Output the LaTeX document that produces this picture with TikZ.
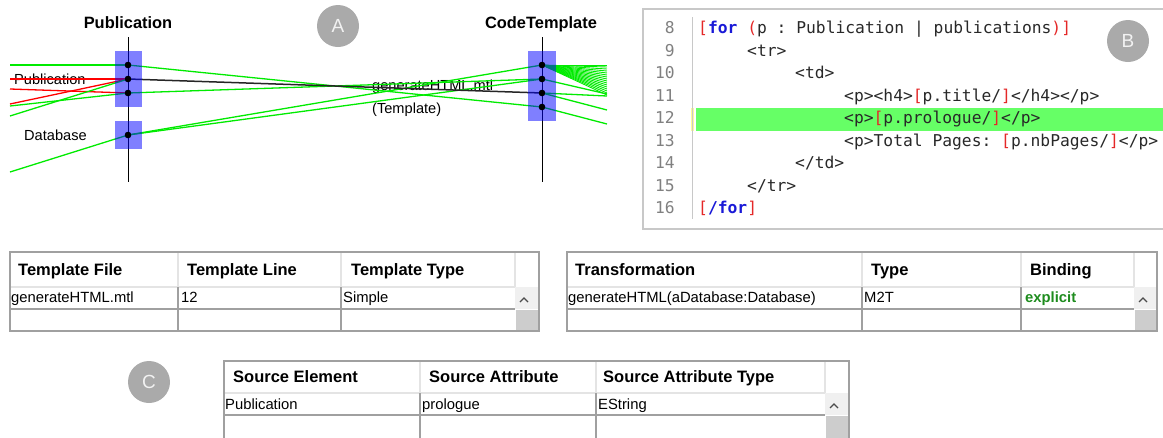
\documentclass[tikz,border=0pt]{standalone}
\usepackage{fontspec}
\setmainfont{Liberation Sans}
\newfontfamily\codefont{DejaVu Sans Mono}

\definecolor{trgreen}{RGB}{0,235,0}
\definecolor{trred}{RGB}{255,0,0}
\definecolor{badge}{RGB}{170,170,170}
\definecolor{hlgreen}{RGB}{102,255,102}
\definecolor{kwblue}{RGB}{25,25,215}
\definecolor{brred}{RGB}{228,40,40}
\definecolor{codetxt}{RGB}{40,40,40}
\definecolor{lnum}{RGB}{128,128,128}
\definecolor{gridgray}{RGB}{160,160,160}
\definecolor{hdrsep}{RGB}{228,228,228}
\definecolor{thumb}{RGB}{205,205,205}
\definecolor{sbback}{RGB}{240,240,240}
\definecolor{okgreen}{RGB}{30,140,30}
\definecolor{boxgray}{RGB}{200,200,200}

\tikzset{
  trace/.style={trgreen, line width=1.3pt},
  failtrace/.style={trred, line width=1.3pt},
  linktrace/.style={black!85, line width=1.5pt},
  lifeline/.style={black, line width=1pt},
  actbox/.style={fill=blue, fill opacity=0.5, draw=none},
  tdot/.style={circle, fill=black, inner sep=0pt, minimum size=6.5pt},
  badgenode/.style={circle, fill=badge, text=white!95!black, minimum size=42pt, inner sep=0pt,
    font=\fontsize{19}{19}\selectfont},
  lifetitle/.style={font=\bfseries\fontsize{16.4}{16.4}\selectfont, inner sep=0pt, anchor=base},
  lbl/.style={font=\fontsize{14.6}{14.6}\selectfont, inner sep=0pt, anchor=base west},
  codeline/.style={font=\codefont\fontsize{16.3}{16.3}\selectfont\frenchspacing, text=codetxt, inner sep=0pt, anchor=base west},
  lnumst/.style={font=\codefont\fontsize{16.3}{16.3}\selectfont, text=lnum, inner sep=0pt, anchor=base east},
  hdr/.style={font=\bfseries\fontsize{16.5}{16.5}\selectfont, inner sep=0pt, anchor=base west},
  celltxt/.style={font=\fontsize{14.8}{14.8}\selectfont, inner sep=0pt, anchor=base west},
  gridline/.style={gridgray, line width=1.2pt},
  hdrline/.style={hdrsep, line width=1.5pt},
}

% x0, column 1, column 2, scrollbar left, x1, top, header bottom, row bottom, bottom
\newcommand\gridtable[9]{%
  \fill[sbback] (#4,#7) rectangle (#5,#8);
  \fill[thumb] (#4+1,#8+1) rectangle (#5-1,#9);
  \draw[hdrline] (#2,#6) -- (#2,#7);
  \draw[hdrline] (#3,#6) -- (#3,#7);
  \draw[hdrline] (#4,#6) -- (#4,#7);
  \draw[hdrline] (#1,#7) -- (#4,#7);
  \draw[gridline] (#2,#7) -- (#2,#9);
  \draw[gridline] (#3,#7) -- (#3,#9);
  \draw[gridline] (#1,#8) -- (#4,#8);
  \draw[gridline] (#1,#6) rectangle (#5,#9);
  \draw[black!70, line width=1.2pt] (#4+5,#7+15) -- (#4+9,#7+11) -- (#4+13,#7+15);
}

\newcommand\redbr[1]{{\color{brred}#1}}

\begin{document}
\begin{tikzpicture}[x=1pt, y=-1pt]
\useasboundingbox (0,0) rectangle (1163,437);

% ---------------- trace view ----------------
\node[badgenode] (badgeA) at (338,26) {A};

\node[lifetitle] (pubtitle) at (128,28) {Publication};
\node[lifetitle] (cttitle) at (541,28) {CodeTemplate};

\coordinate (pubtop) at (128,37);
\coordinate (pubbot) at (128,182);
\coordinate (cttop) at (542,37);
\coordinate (ctbot) at (542,182);
\draw[lifeline] (pubtop) -- (pubbot);
\draw[lifeline] (cttop) -- (ctbot);

\node[lbl] (lblpub) at (14,84) {Publication};
\node[lbl] (lbldb) at (24,140) {Database};
\node[lbl] (lblfile) at (372,90) {generateHTML.mtl};
\node[lbl] (lblkind) at (372,113) {(Template)};

% anchor points on the lifelines
\node[tdot] (p1) at (128,65) {};
\node[tdot] (p2) at (128,79) {};
\node[tdot] (p3) at (128,93) {};
\node[tdot] (d1) at (128,135) {};
\node[tdot] (c1) at (542,65) {};
\node[tdot] (c2) at (542,79) {};
\node[tdot] (c3) at (542,93) {};
\node[tdot] (c4) at (542,107) {};

% incoming ends on the left
\coordinate (l1) at (10,65);
\coordinate (l2) at (10,79);
\coordinate (l3) at (10,89);
\coordinate (l4) at (10,104);
\coordinate (l5) at (10,106);
\coordinate (l6) at (10,116);
\coordinate (l7) at (10,172);
% outgoing ends on the right
\coordinate (r2) at (607,94);
\coordinate (r3a) at (607,96);
\coordinate (r3b) at (607,110);
\coordinate (r4) at (607,124);

\draw[trace] (l1) -- (p1.center);
\draw[failtrace] (l2) -- (p2.center);
\draw[failtrace] (l3) -- (p3.center);
\draw[failtrace] (l4) -- (p2.center);
\draw[trace] (l5) -- (p3.center);
\draw[trace] (l6) -- (p2.center);
\draw[trace] (l7) -- (d1.center);

\draw[trace] (p1.center) -- (c4.center);
\draw[trace] (p3.center) -- (c2.center);
\draw[trace] (d1.center) -- (c1.center);
\draw[trace] (d1.center) -- (c2.center);
\draw[linktrace] (p2.center) -- (c3.center);

\foreach \k in {0,...,15}
  \draw[trace, line width=0.9pt] (c1.center) -- (607,{65+2*\k});
\draw[trace] (c2.center) -- (r2);
\draw[trace] (c3.center) -- (r3a);
\draw[trace] (c3.center) -- (r3b);
\draw[trace] (c4.center) -- (r4);

\fill[actbox] (115,51) rectangle (142,107);
\fill[actbox] (115,121) rectangle (142,149);
\fill[actbox] (528,51) rectangle (556,121);

\foreach \n in {p1,p2,p3,d1,c1,c2,c3,c4}
  \fill (\n.center) circle (3.2pt);

% ---------------- template editor ----------------
\fill[hlgreen] (696,108) rectangle (1163,131);
\fill[yellow!40] (691,108) rectangle (694,131);
\draw[boxgray, line width=0.8pt] (692,17) -- (692,219);
\draw[boxgray, line width=1.6pt] (1165,9) -- (643,9) -- (643,229) -- (1165,229);

\node[lnumst] (n8)  at (675,33.5)  {8};
\node[lnumst] (n9)  at (675,56)    {9};
\node[lnumst] (n10) at (675,78.5)  {10};
\node[lnumst] (n11) at (675,101)   {11};
\node[lnumst] (n12) at (675,123.5) {12};
\node[lnumst] (n13) at (675,146)   {13};
\node[lnumst] (n14) at (675,168.5) {14};
\node[lnumst] (n15) at (675,191)   {15};
\node[lnumst] (n16) at (675,213.5) {16};

\node[codeline] (s8)  at (698,33.5)  {\redbr{[}{\color{kwblue}\bfseries for} \redbr{(}p : Publication | publications\redbr{)]}};
\node[codeline] (s9)  at (747,56)    {<tr>};
\node[codeline] (s10) at (795,78.5)  {<td>};
\node[codeline] (s11) at (844,101)   {<p><h4>\redbr{[}p.title/\redbr{]}</h4></p>};
\node[codeline] (s12) at (844,123.5) {<p>\redbr{[}p.prologue/\redbr{]}</p>};
\node[codeline] (s13) at (844,146)   {<p>Total Pages: \redbr{[}p.nbPages/\redbr{]}</p>};
\node[codeline] (s14) at (795,168.5) {</td>};
\node[codeline] (s15) at (747,191)   {</tr>};
\node[codeline] (s16) at (698,213.5) {\redbr{[}{\color{kwblue}\bfseries /for}\redbr{]}};

\node[badgenode] (badgeB) at (1128,41) {B};

% ---------------- template table ----------------
\gridtable{10}{178}{341}{515}{539}{252}{287}{309}{331}
\node[hdr] (h11) at (18,275.5)  {Template File};
\node[hdr] (h12) at (187,275.5) {Template Line};
\node[hdr] (h13) at (351,275.5) {Template Type};
\node[celltxt] (v11) at (11,302)  {generateHTML.mtl};
\node[celltxt] (v12) at (181,302) {12};
\node[celltxt] (v13) at (343,302) {Simple};

% ---------------- transformation table ----------------
\gridtable{567}{862}{1021}{1134}{1157}{252}{287}{309}{331}
\node[hdr] (h21) at (575,275.5)  {Transformation};
\node[hdr] (h22) at (871,275.5)  {Type};
\node[hdr] (h23) at (1030,275.5) {Binding};
\node[celltxt] (v21) at (568,302)  {generateHTML(aDatabase:Database)};
\node[celltxt] (v22) at (864,302)  {M2T};
\node[celltxt, font=\bfseries\fontsize{14.8}{14.8}\selectfont, text=okgreen] (v23) at (1025,302) {explicit};

% ---------------- source table ----------------
\node[badgenode] (badgeC) at (149,382) {C};
\gridtable{224}{420}{596}{825}{849}{361}{393}{415}{441}
\node[hdr] (h31) at (233,382.5) {Source Element};
\node[hdr] (h32) at (429,382.5) {Source Attribute};
\node[hdr] (h33) at (603,382.5) {Source Attribute Type};
\node[celltxt] (v31) at (225,409) {Publication};
\node[celltxt] (v32) at (422,409) {prologue};
\node[celltxt] (v33) at (598,409) {EString};
\end{tikzpicture}
\end{document}
